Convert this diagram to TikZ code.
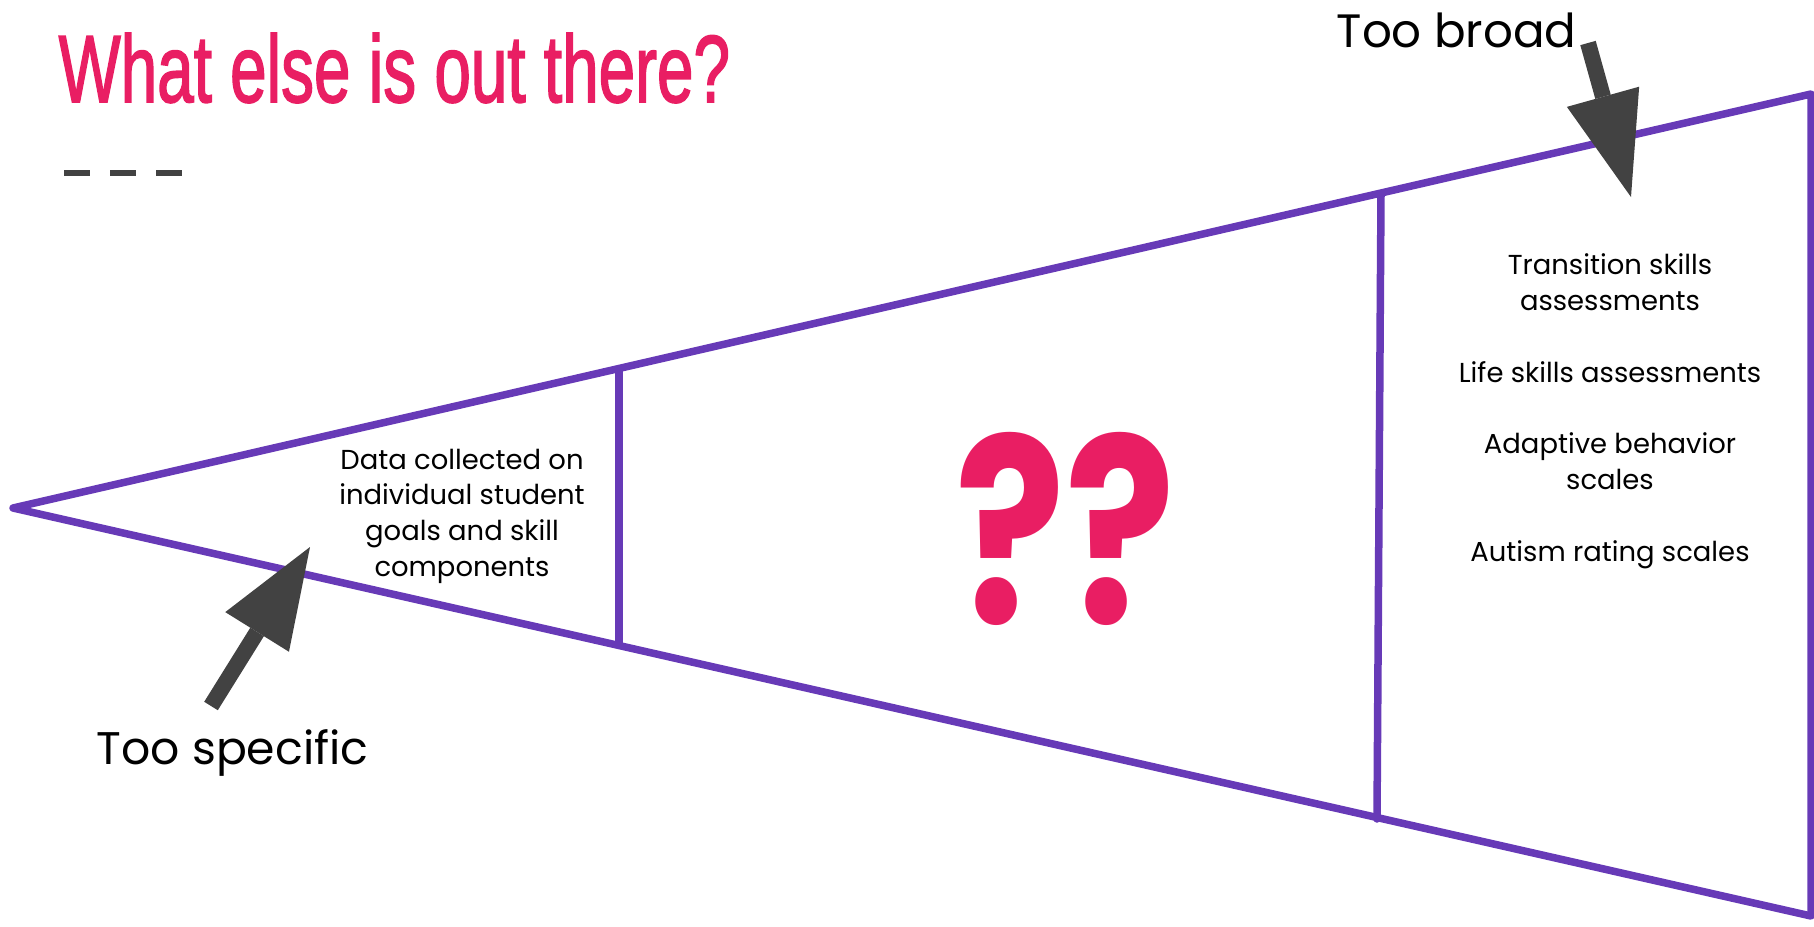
\documentclass[tikz,border=0pt]{standalone}
\usepackage{fontspec}
\setmainfont{Poppins}
\newfontfamily\titlefont[FakeBold=2]{Liberation Sans}
\usetikzlibrary{arrows.meta}
\definecolor{funnel}{HTML}{673AB7}
\definecolor{rose}{HTML}{E91E63}
\definecolor{pointer}{HTML}{424242}

\begin{document}
\begin{tikzpicture}[x=0.01cm, y=-0.01cm,
    funnelline/.style={draw=funnel, line width=0.75mm, line cap=round, line join=round},
    blockarrow/.style={draw=pointer, line width=1.6mm,
        -{Triangle[length=#1, width=0.75cm, line width=0pt]}},
    blockarrow/.default=1.02cm,
    note/.style={inner sep=0pt, align=center, font=\fontsize{7.8}{10.2}\selectfont},
    tag/.style={inner sep=0pt, anchor=base west, font=\fontsize{13.3}{16}\selectfont}]
        \useasboundingbox (0,0) rectangle (1814,927);

        % Title
        \node[inner sep=0pt, anchor=base west, text=rose] (title) at (58,102)
            {\resizebox{6.71cm}{0.69cm}{\titlefont\fontsize{20}{24}\selectfont What else is out there?}};
        \draw[pointer, line width=0.6mm, dash pattern=on 0.26cm off 0.2cm] (64,173) -- (183,173);

        % Funnel
        \coordinate (apex) at (13,508);
        \coordinate (wideT) at (1811,94);
        \coordinate (wideB) at (1811,916);
        \coordinate (cutAT) at (619,369);
        \coordinate (cutAB) at (619,645);
        \coordinate (cutBT) at (1381,195);
        \coordinate (cutBB) at (1377,819);
        \draw[funnelline] (wideT) -- (apex) -- (wideB) -- cycle;
        \draw[funnelline] (cutAT) -- (cutAB);
        \draw[funnelline] (cutBT) -- (cutBB);

        % Texts inside
        \node[note, anchor=north] (specific) at (462,448)
            {Data collected on\\individual student\\goals and skill\\components};
        \node[inner sep=0pt, anchor=base west, text=rose] (unknown) at (955,623)
            {\resizebox{2.2cm}{1.91cm}{\bfseries ??}};
        \node[note, anchor=north] (broad) at (1610,253)
            {Transition skills\\assessments\\[10.2pt]Life skills assessments\\[10.2pt]%
             Adaptive behavior\\scales\\[10.2pt]Autism rating scales};

        % Pointers
        \node[tag] (broadlbl) at (1336,47) {Too broad};
        \node[tag, font=\fontsize{13}{16}\selectfont] (specificlbl) at (96,764) {Too specific};
        \coordinate (broadtail) at (1588,43);
        \coordinate (broadtip) at (1631,197);
        \coordinate (specifictail) at (211,706);
        \coordinate (specifictip) at (310,547);
        \draw[blockarrow=1.04cm] (broadtail) -- (broadtip);
        \draw[blockarrow=1.0cm] (specifictail) -- (specifictip);
\end{tikzpicture}
\end{document}
